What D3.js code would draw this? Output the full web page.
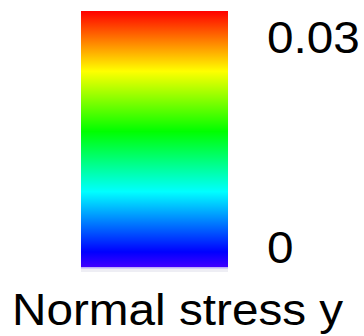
<!DOCTYPE html>
<html>
<head>
<meta charset="utf-8">
<script src="https://cdn.jsdelivr.net/npm/d3@7"></script>
<style>
  body { margin: 0; background: #fff; }
  text { font-family: "Liberation Sans", Arial, sans-serif; fill: #000; }
</style>
</head>
<body>
<script>
var domain = [0, 0.03];
var tickValues = [0, 0.03];
var tickLabels = ["0", "0.03"];
var title = "Normal stress y";
// colormap: hue (deg) from the low end to the high end of the bar
var stopHues = [255, 240, 180, 120, 60, 0];

var screen = {width: 364, height: 336};
var bar = {left: 81, right: 228, top: 11, bottom: 267};
var stretch = 1.06; // text in the original is a little wider than tall

var svg = d3.select("body")
            .append("svg")
            .attr("width", screen.width)
            .attr("height", screen.height);

var yScale = d3.scaleLinear()
               .domain(domain)
               .range([bar.bottom, bar.top]);

var hueScale = d3.scaleLinear()
                 .domain([255, 0])
                 .range([0, 1]);

var defs = svg.append("defs");
var grad = defs.append("linearGradient")
               .attr("id", "cmap")
               .attr("x1", 0).attr("y1", 1)
               .attr("x2", 0).attr("y2", 0);

grad.selectAll("stop")
    .data(stopHues)
    .enter()
    .append("stop")
    .attr("offset", function(d) { return hueScale(d); })
    .attr("stop-color", function(d) { return d3.hsl(d, 1, 0.5).formatHex(); });

// faint edge under the bar
svg.append("rect")
   .attr("x", bar.left)
   .attr("y", bar.bottom)
   .attr("width", bar.right - bar.left)
   .attr("height", 5)
   .attr("fill", "#eeeef4");
svg.append("rect")
   .attr("x", bar.left)
   .attr("y", bar.bottom)
   .attr("width", bar.right - bar.left)
   .attr("height", 1.5)
   .attr("fill", "#bcaef8");

svg.append("rect")
   .attr("x", bar.left)
   .attr("y", yScale(domain[1]))
   .attr("width", bar.right - bar.left)
   .attr("height", yScale(domain[0]) - yScale(domain[1]))
   .attr("fill", "url(#cmap)");

svg.selectAll(".tick-label")
   .data(tickValues)
   .enter()
   .append("text")
   .attr("class", "tick-label")
   .attr("transform", function(d) {
     var y = d === domain[1] ? yScale(d) + 42 : yScale(d) - 4;
     return "translate(267," + y + ") scale(" + stretch + ",1)";
   })
   .style("font-size", "45px")
   .text(function(d, i) { return tickLabels[i]; });

svg.append("text")
   .attr("transform", "translate(12,325) scale(" + stretch + ",1)")
   .style("font-size", "45px")
   .text(title);
</script>
</body>
</html>
